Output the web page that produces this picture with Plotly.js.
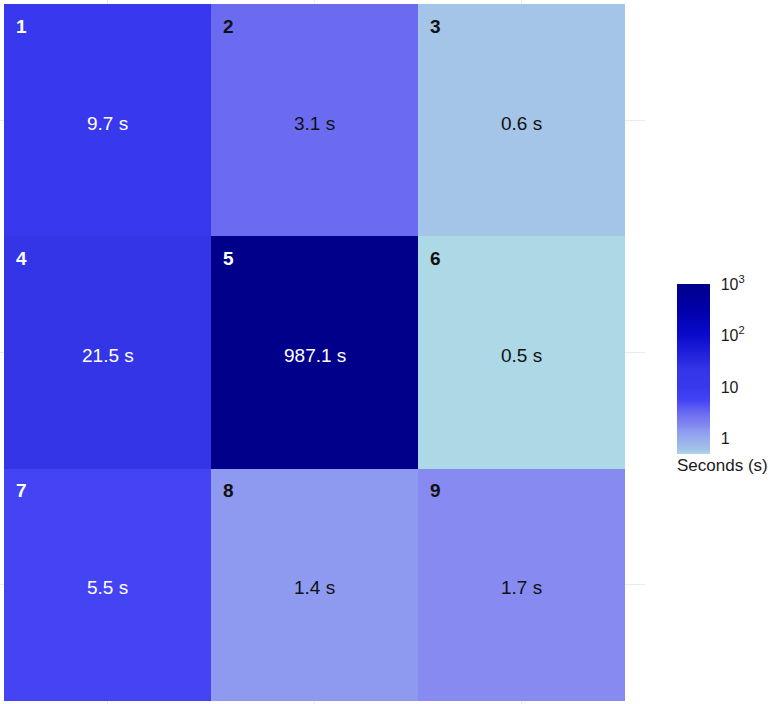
<!DOCTYPE html>
<html>
<head>
<meta charset="utf-8">
<script src="https://cdn.plot.ly/plotly-3.0.1.min.js"></script>
<style>html,body{margin:0;padding:0;background:#fff;}#chart{width:770px;height:704px;}</style>
</head>
<body>
<div id="chart"></div>
<script>
// Data
var cols = [1, 2, 3];
var rows = [1, 2, 3];
var tileIds = [[1, 2, 3], [4, 5, 6], [7, 8, 9]];
var seconds = [[9.7, 3.1, 0.6], [21.5, 987.1, 0.5], [5.5, 1.4, 1.7]];
var cbTickVals = [1, 10, 100, 1000];
var cbTickText = ["1", "10", "10<sup>2</sup>", "10<sup>3</sup>"];
var cbTitle = "Seconds (s)";

var FONT = "Liberation Sans, Arial, Helvetica, sans-serif";

var zlog = seconds.map(function (r) { return r.map(function (v) { return Math.log10(v); }); });

var colorscale = [
  [0.000, "#ADD8E6"],
  [0.024, "#A4C4E8"],
  [0.136, "#8E9AEF"],
  [0.161, "#878AF0"],
  [0.240, "#6B6BF2"],
  [0.316, "#4444F5"],
  [0.391, "#3838EE"],
  [0.496, "#3535E8"],
  [0.698, "#0A0ACC"],
  [0.850, "#0000AA"],
  [1.000, "#00008B"]
];

var trace = {
  type: "heatmap",
  x: cols,
  y: rows,
  z: zlog,
  zmin: Math.log10(0.5),
  zmax: 3,
  colorscale: colorscale,
  hoverinfo: "skip",
  colorbar: {
    xref: "container", yref: "container",
    x: 677 / 770, xanchor: "left",
    y: (704 - 284) / 704, yanchor: "top",
    lenmode: "pixels", len: 194,
    thickness: 33, thicknessmode: "pixels",
    xpad: 0, ypad: 0,
    outlinewidth: 0,
    tickmode: "array",
    tickvals: cbTickVals.map(function (v) { return Math.log10(v); }),
    ticktext: cbTickText,
    ticks: "outside", ticklen: 8, tickcolor: "rgba(255,255,255,0)", tickwidth: 1,
    tickfont: { family: FONT, size: 16, color: "#1a1a1a" },
    title: { text: cbTitle, side: "bottom", font: { family: FONT, size: 17, color: "#1a1a1a" } }
  }
};

var annotations = [];
for (var i = 0; i < rows.length; i++) {
  for (var j = 0; j < cols.length; j++) {
    var v = seconds[i][j];
    var col = v > 5 ? "#ffffff" : "#111111";
    annotations.push({
      x: cols[j], y: rows[i], xref: "x", yref: "y",
      text: v.toFixed(1) + " s", showarrow: false,
      font: { family: FONT, size: 19, color: col },
      yshift: -3
    });
    annotations.push({
      x: cols[j] - 0.5, y: rows[i] - 0.5, xref: "x", yref: "y",
      text: "<b>" + tileIds[i][j] + "</b>", showarrow: false,
      xanchor: "center", yanchor: "middle",
      xshift: 17, yshift: -22,
      font: { family: FONT, size: 19, color: col }
    });
  }
}

var layout = {
  width: 770, height: 704,
  margin: { l: 0, r: 125, t: 0, b: 0 },
  paper_bgcolor: "#ffffff",
  plot_bgcolor: "#ffffff",
  xaxis: {
    range: [0.5 - 4 / 207, 3.5 + 20 / 207],
    tickmode: "array", tickvals: cols, showticklabels: false, ticks: "",
    showgrid: true, gridcolor: "#EBEBEB", gridwidth: 1.2,
    zeroline: false, showline: false, fixedrange: true
  },
  yaxis: {
    range: [3.5 + 3 / 232.3, 0.5 - 4 / 232.3],
    tickmode: "array", tickvals: rows, showticklabels: false, ticks: "",
    showgrid: true, gridcolor: "#EBEBEB", gridwidth: 1.2,
    zeroline: false, showline: false, fixedrange: true
  },
  annotations: annotations,
  showlegend: false
};

Plotly.newPlot("chart", [trace], layout, { displayModeBar: false, staticPlot: true });
</script>
</body>
</html>
